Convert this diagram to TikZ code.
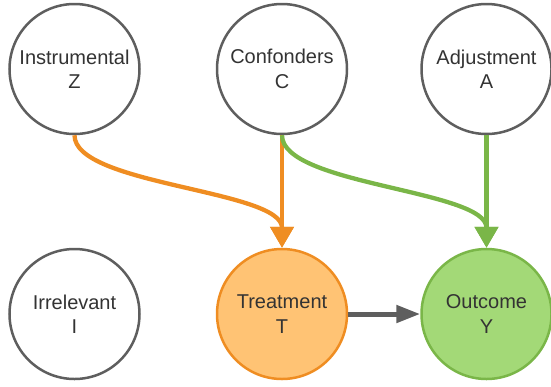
\documentclass[tikz,border=0pt]{standalone}
\usepackage{fontspec}
\setmainfont{Liberation Sans}
\usetikzlibrary{arrows.meta}
\definecolor{ringgray}{HTML}{5E5E5E}
\definecolor{textgray}{HTML}{333333}
\definecolor{orangeline}{HTML}{EF8D22}
\definecolor{orangefill}{HTML}{FFC374}
\definecolor{greenline}{HTML}{7AB648}
\definecolor{greenfill}{HTML}{A3D977}
\begin{document}
\begin{tikzpicture}[x=1pt, y=-1pt,
    var/.style={circle, draw=ringgray, line width=2.5pt, fill=white, minimum size=130pt,
      align=center, text=textgray, font=\fontsize{20}{24.5}\selectfont},
    link/.style={line width=4.3pt, -{Triangle[length=21pt, width=23pt]}}]
      \useasboundingbox (0,0) rectangle (551,386);
      \node[var] (Z) at (74.5,69) {Instrumental\\Z}; % top left
      \node[var] (C) at (282,69) {Confonders\\C}; % top
      \node[var] (A) at (486.5,69) {Adjustment\\A}; % top right
      \node[var] (I) at (74.5,314) {Irrelevant\\I}; % bottom left
      \node[var, draw=orangeline, fill=orangefill] (T) at (282,314) {Treatment\\T};
      \node[var, draw=greenline, fill=greenfill] (Y) at (486.5,314) {Outcome\\Y};
      \draw[link, orangeline] (Z.south) .. controls +(0,50) and +(0,-58) .. (T.north);
      \draw[link, orangeline] (C.south) -- (T.north);
      \draw[link, greenline] (C.south) .. controls +(0,50) and +(0,-58) .. (Y.north);
      \draw[link, greenline] (A.south) -- (Y.north);
      \draw[ringgray, line width=5pt, -{Triangle[length=24pt, width=17pt]}] (T.east) -- (Y.west);
    \end{tikzpicture}
\end{document}
